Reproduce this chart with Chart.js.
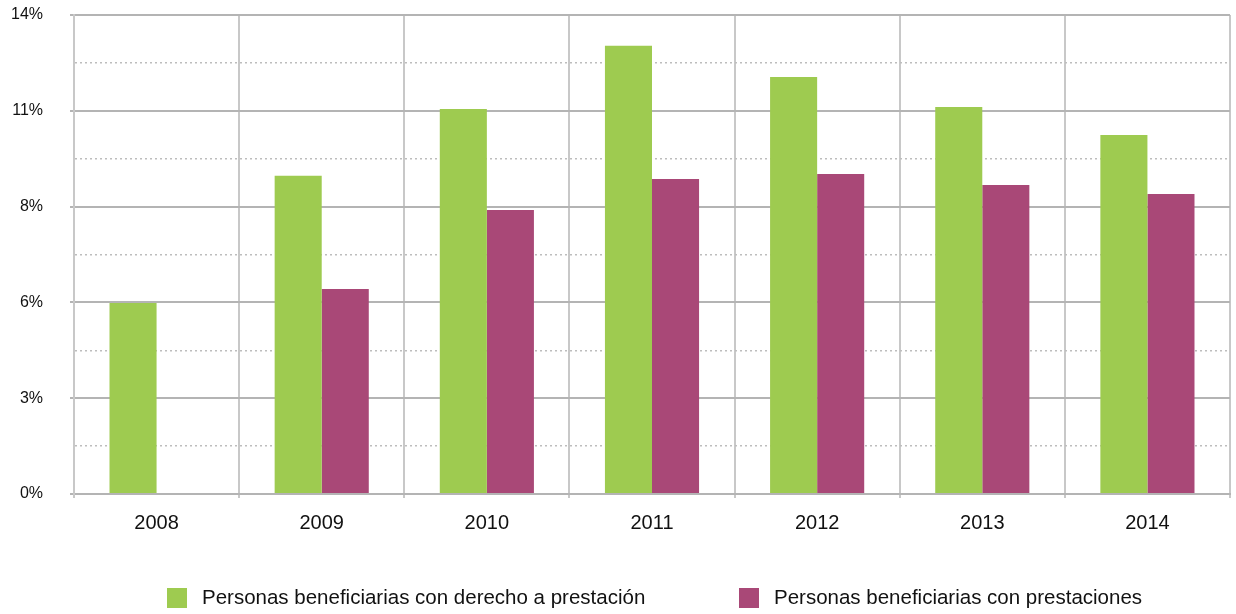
<!DOCTYPE html>
<html><head><meta charset="utf-8">
<script src="https://cdn.jsdelivr.net/npm/chart.js@4.4.1/dist/chart.umd.min.js"></script>
<style>html,body{margin:0;padding:0;background:#fff;}#wrap{width:1236px;height:614px;}</style>
</head><body><div id="wrap"><canvas id="c" width="1236" height="614"></canvas></div>
<script>
const categories = ['2008','2009','2010','2011','2012','2013','2014'];
const seriesNames = ['Personas beneficiarias con derecho a prestación','Personas beneficiarias con prestaciones'];
const derechoValues = [5.58, 9.30, 11.25, 13.10, 12.19, 11.31, 10.49];
const prestacionesValues = [null, 5.99, 8.30, 9.21, 9.35, 9.03, 8.77];
const yMin = 0, yMax = 14, yStep = 1.4;

const FONT = '"Liberation Sans", Arial, sans-serif';
const GREEN = '#9ECB50', PURPLE = '#A94877';
const TEXT = '#111111';

const legendPlugin = {
  id: 'bottomLegend',
  afterDraw(chart) {
    const ctx = chart.ctx;
    ctx.save();
    ctx.font = '20.5px ' + FONT;
    ctx.textBaseline = 'middle';
    const xs = [167, 739];
    const y = 588;
    chart.data.datasets.forEach((ds, i) => {
      ctx.fillStyle = ds.backgroundColor;
      ctx.fillRect(xs[i], y, 20, 20);
      ctx.fillStyle = TEXT;
      ctx.fillText(ds.label, xs[i] + 35, y + 10);
    });
    ctx.restore();
  }
};

new Chart(document.getElementById('c'), {
  type: 'bar',
  data: {
    labels: categories,
    datasets: [
      { label: seriesNames[0], data: derechoValues, backgroundColor: GREEN, borderWidth: 0 },
      { label: seriesNames[1], data: prestacionesValues, backgroundColor: PURPLE, borderWidth: 0 }
    ]
  },
  options: {
    responsive: false,
    animation: false,
    devicePixelRatio: 1,
    categoryPercentage: 0.57,
    barPercentage: 1.0,
    layout: { padding: { left: 0, right: 6, top: 15, bottom: 0 } },
    plugins: { legend: { display: false }, tooltip: { enabled: false } },
    scales: {
      x: {
        offset: true,
        grid: { offset: true, color: '#c8c8c8', lineWidth: 2, tickLength: 4, tickColor: '#c8c8c8' },
        border: { display: true, color: '#b4b4b4', width: 2 },
        ticks: { font: { size: 20, family: FONT }, color: TEXT, padding: 13, maxRotation: 0 },
        afterFit(s) { s.height = 120; s.paddingLeft = 0; s.paddingRight = 0; }
      },
      y: {
        min: yMin, max: yMax,
        ticks: {
          stepSize: yStep, autoSkip: false,
          callback: (v, i) => (i % 2 === 0 ? Math.round(v) + '%' : ''),
          font: { size: 16, family: FONT }, color: TEXT, padding: 27
        },
        grid: {
          color: c => (c.index % 2 === 0 ? '#b4b4b4' : '#bdbdbd'),
          lineWidth: c => (c.index % 2 === 0 ? 2 : 1.5),
          tickLength: 4,
          tickColor: c => (c.index % 2 === 0 ? '#b4b4b4' : 'rgba(0,0,0,0)')
        },
        border: { display: true, color: '#c8c8c8', width: 2, dash: c => (c.index % 2 === 1 ? [2, 3] : []) },
        afterFit(s) { s.width = 74; s.paddingTop = 0; s.paddingBottom = 0; }
      }
    }
  },
  plugins: [legendPlugin]
});
</script>
</body></html>
